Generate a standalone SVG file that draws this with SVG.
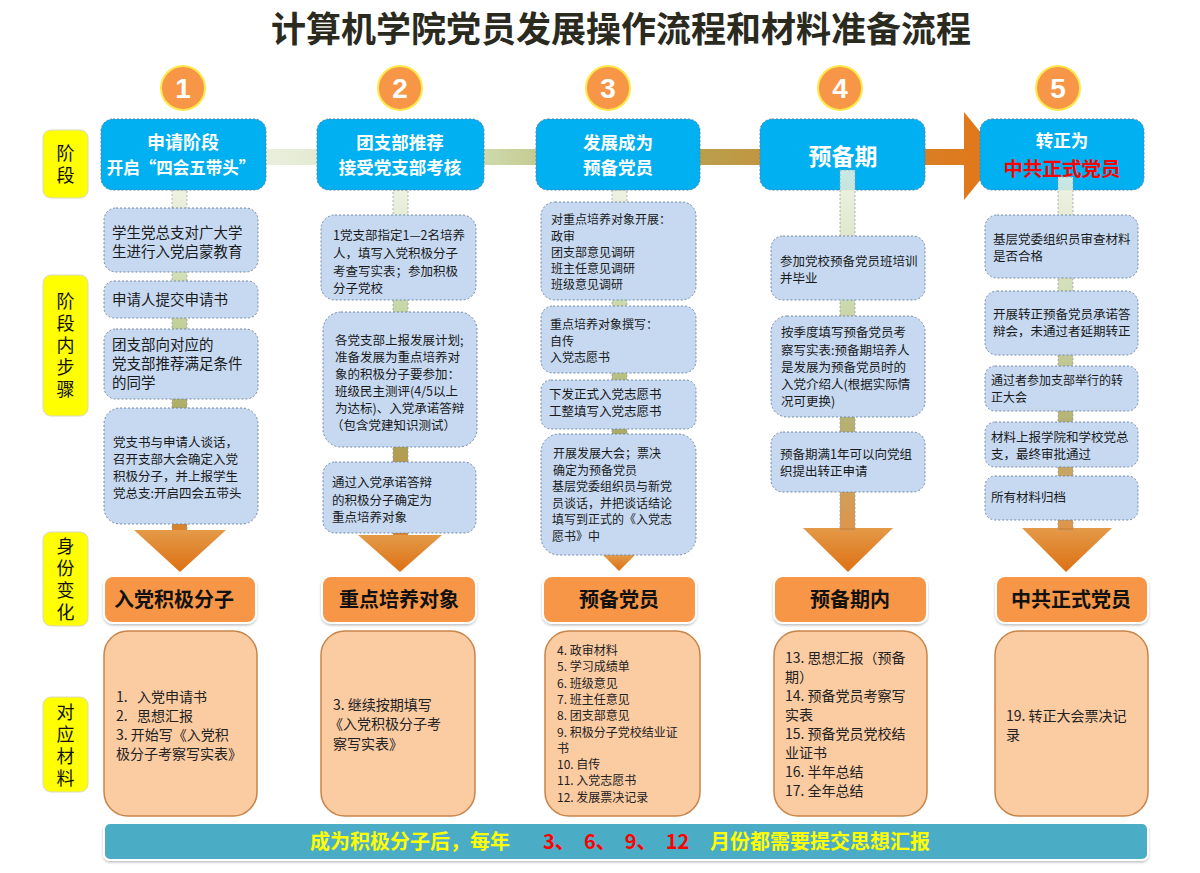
<svg xmlns="http://www.w3.org/2000/svg" width="1200" height="873" viewBox="0 0 1200 873">
  <style>
    text { font-family: "Noto Sans CJK SC", "Noto Sans", sans-serif; }
    .title { font-size: 35px; font-weight: bold; fill: #2b2a1f; text-anchor: middle; }
    .num { font-size: 28px; font-weight: bold; fill: #ffffff; text-anchor: middle; font-family: "Liberation Sans", Arial, sans-serif; }
    .badge { fill: #f79646; stroke: #ffe94a; stroke-width: 2; }
    .lbl { fill: #ffff00; stroke: #d8d8c8; stroke-width: 1; }
    .lbltxt { font-size: 18px; fill: #111111; text-anchor: middle; writing-mode: vertical-rl; letter-spacing: 4px; }
    .head { fill: #00b0f0; stroke: #5b7fa8; stroke-width: 1; stroke-dasharray: 2 2; }
    .headtxt { font-size: 17.5px; font-weight: bold; fill: #ffffff; text-anchor: middle; }
    .step { fill: #c6d9f1; stroke: #7489a8; stroke-width: 1; stroke-dasharray: 2 2; }
    .s { font-size: 12.5px; fill: #1a1a1a; }
    .s14 { font-size: 14.5px; fill: #1a1a1a; }
    .s12 { font-size: 12px; fill: #1a1a1a; }
    .ident { fill: #f79646; stroke: #ffffff; stroke-width: 2; filter: url(#soft); }
    .identtxt { font-size: 20px; font-weight: bold; fill: #111111; text-anchor: middle; }
    .mat { fill: #fbcba2; stroke: #c8854a; stroke-width: 1.5; }
    .m { font-size: 14px; fill: #222222; white-space: pre; }
    .m12 { font-size: 12px; fill: #222222; }
    .vcon { stroke: #9aa0a8; stroke-width: 0.8; stroke-dasharray: 2 2; }
    .bar { fill: #4bacc6; stroke: #ffffff; stroke-width: 2; filter: url(#soft); }
    .bartxt { font-size: 20px; font-weight: bold; fill: #ffff00; white-space: pre; }
  </style>
  <defs>
    <linearGradient id="hflow" gradientUnits="userSpaceOnUse" x1="266" y1="0" x2="975" y2="0">
      <stop offset="0" stop-color="#eaefdc"/>
      <stop offset="0.3" stop-color="#cfdcb0"/>
      <stop offset="0.55" stop-color="#b2a654"/>
      <stop offset="0.75" stop-color="#c8903a"/>
      <stop offset="1" stop-color="#e0781c"/>
    </linearGradient>
    <linearGradient id="vflow" x1="0" y1="0" x2="0" y2="1">
      <stop offset="0" stop-color="#eef2e2"/>
      <stop offset="0.35" stop-color="#c6d6a4"/>
      <stop offset="0.7" stop-color="#a8a45a"/>
      <stop offset="1" stop-color="#d9822c"/>
    </linearGradient>
    <linearGradient id="down" x1="0" y1="0" x2="0" y2="1">
      <stop offset="0" stop-color="#e49a48"/>
      <stop offset="1" stop-color="#dd7014"/>
    </linearGradient>
    <filter id="soft" x="-10%" y="-10%" width="120%" height="130%">
      <feDropShadow dx="0" dy="1.5" stdDeviation="1.2" flood-color="#000000" flood-opacity="0.25"/>
    </filter>
  </defs>

  <text class="title" x="621" y="42">计算机学院党员发展操作流程和材料准备流程</text>

  <!-- stage number badges -->
  <g id="badges">
    <circle class="badge" cx="183" cy="88" r="22"/><text class="num" x="183" y="98">1</text>
    <circle class="badge" cx="400" cy="88" r="22"/><text class="num" x="400" y="98">2</text>
    <circle class="badge" cx="608" cy="88" r="22"/><text class="num" x="608" y="98">3</text>
    <circle class="badge" cx="840" cy="88" r="22"/><text class="num" x="840" y="98">4</text>
    <circle class="badge" cx="1058" cy="88" r="22"/><text class="num" x="1058" y="98">5</text>
  </g>

  <!-- row labels (vertical text) -->
  <g id="row-labels">
    <rect class="lbl" x="43" y="130" width="45" height="68" rx="8"/>
    <text class="lbltxt" x="65.5" y="166">阶段</text>
    <rect class="lbl" x="43" y="275" width="45" height="141" rx="8"/>
    <text class="lbltxt" x="65.5" y="347">阶段内步骤</text>
    <rect class="lbl" x="43" y="532" width="45" height="94" rx="8"/>
    <text class="lbltxt" x="65.5" y="581">身份变化</text>
    <rect class="lbl" x="43" y="697" width="45" height="95" rx="8"/>
    <text class="lbltxt" x="65.5" y="747">对应材料</text>
  </g>

  <!-- connectors -->
  <g id="connectors">
    <rect x="260" y="149" width="706" height="16" fill="url(#hflow)"/>
    <polygon points="964,112 1000,156 964,200" fill="#e0781c"/>
    <rect class="vcon" x="172" y="190" width="15" height="342" fill="url(#vflow)"/>
    <rect class="vcon" x="393" y="190" width="15" height="347" fill="url(#vflow)"/>
    <rect class="vcon" x="612" y="190" width="15" height="368" fill="url(#vflow)"/>
    <polygon points="134,530 226,530 180,572" fill="url(#down)"/>
    <polygon points="358,535 442,535 400,572" fill="url(#down)"/>
    <polygon points="603,555 635,555 619,571" fill="url(#down)"/>
    <polygon points="803,528 893,528 848,572" fill="url(#down)"/>
    <polygon points="1022,528 1112,528 1066,572" fill="url(#down)"/>
  </g>

  <!-- stage 1 -->
  <g id="stage1">
    <rect class="head" x="101" y="119" width="165" height="71" rx="12"/>
    <text class="headtxt" x="183" y="149" style="font-size:18px">申请阶段</text>
    <text class="headtxt" x="181" y="174" style="font-size:16.5px">开启“四会五带头”</text>
    <rect class="step" x="104" y="208" width="154" height="64" rx="12"/>
    <text class="s14" x="112" y="238">学生党总支对广大学</text>
    <text class="s14" x="112" y="257">生进行入党启蒙教育</text>
    <rect class="step" x="104" y="281" width="154" height="37" rx="10"/>
    <text class="s14" x="112" y="305">申请人提交申请书</text>
    <rect class="step" x="104" y="329" width="154" height="70" rx="12"/>
    <text class="s14" x="112" y="350">团支部向对应的</text>
    <text class="s14" x="112" y="369">党支部推荐满足条件</text>
    <text class="s14" x="112" y="388">的同学</text>
    <rect class="step" x="104" y="408" width="154" height="116" rx="16"/>
    <text class="s" x="113" y="447">党支书与申请人谈话，</text>
    <text class="s" x="113" y="464">召开支部大会确定入党</text>
    <text class="s" x="113" y="481">积极分子，并上报学生</text>
    <text class="s" x="113" y="498">党总支:开启四会五带头</text>
    <rect class="ident" x="104" y="576" width="152" height="47" rx="9"/>
    <text class="identtxt" x="174" y="607">入党积极分子</text>
    <rect class="mat" x="104" y="631" width="153" height="185" rx="24"/>
    <text class="m" x="116" y="702">1.   入党申请书</text>
    <text class="m" x="116" y="721">2.   思想汇报</text>
    <text class="m" x="116" y="740">3. 开始写《入党积</text>
    <text class="m" x="116" y="759">极分子考察写实表》</text>
  </g>

  <!-- stage 2 -->
  <g id="stage2">
    <rect class="head" x="317" y="119" width="167" height="71" rx="12"/>
    <text class="headtxt" x="400" y="149">团支部推荐</text>
    <text class="headtxt" x="400" y="174">接受党支部考核</text>
    <rect class="step" x="321" y="215" width="155" height="85" rx="14"/>
    <text class="s" x="333" y="240">1党支部指定1—2名培养</text>
    <text class="s" x="333" y="258">人，填写入党积极分子</text>
    <text class="s" x="333" y="276">考查写实表；参加积极</text>
    <text class="s" x="333" y="293">分子党校</text>
    <rect class="step" x="323" y="312" width="154" height="135" rx="18"/>
    <text class="s" x="335" y="345">各党支部上报发展计划;</text>
    <text class="s" x="335" y="362">准备发展为重点培养对</text>
    <text class="s" x="335" y="379">象的积极分子要参加：</text>
    <text class="s" x="335" y="396">班级民主测评(4/5以上</text>
    <text class="s" x="335" y="413">为达标)、入党承诺答辩</text>
    <text class="s" x="331" y="430">（包含党建知识测试）</text>
    <rect class="step" x="323" y="462" width="153" height="71" rx="12"/>
    <text class="s" x="332" y="487">通过入党承诺答辩</text>
    <text class="s" x="332" y="505">的积极分子确定为</text>
    <text class="s" x="332" y="522">重点培养对象</text>
    <rect class="ident" x="322" y="576" width="154" height="47" rx="9"/>
    <text class="identtxt" x="399" y="607">重点培养对象</text>
    <rect class="mat" x="321" y="631" width="154" height="185" rx="24"/>
    <text class="m" x="333" y="710">3. 继续按期填写</text>
    <text class="m" x="329" y="729">《入党积极分子考</text>
    <text class="m" x="333" y="749">察写实表》</text>
  </g>

  <!-- stage 3 -->
  <g id="stage3">
    <rect class="head" x="536" y="119" width="164" height="71" rx="12"/>
    <text class="headtxt" x="618" y="149">发展成为</text>
    <text class="headtxt" x="618" y="174">预备党员</text>
    <rect class="step" x="541" y="202" width="155" height="98" rx="14"/>
    <text class="s12" x="551" y="224">对重点培养对象开展：</text>
    <text class="s12" x="551" y="241">政审</text>
    <text class="s12" x="551" y="257">团支部意见调研</text>
    <text class="s12" x="551" y="273">班主任意见调研</text>
    <text class="s12" x="551" y="289">班级意见调研</text>
    <rect class="step" x="541" y="306" width="155" height="67" rx="12"/>
    <text class="s12" x="550" y="329">重点培养对象撰写：</text>
    <text class="s12" x="550" y="346">自传</text>
    <text class="s12" x="550" y="362">入党志愿书</text>
    <rect class="step" x="541" y="380" width="155" height="49" rx="10"/>
    <text class="s" x="549" y="399">下发正式入党志愿书</text>
    <text class="s" x="549" y="416">工整填写入党志愿书</text>
    <rect class="step" x="541" y="434" width="155" height="121" rx="18"/>
    <text class="s12" x="553" y="458">开展发展大会；票决</text>
    <text class="s12" x="553" y="474.5">确定为预备党员</text>
    <text class="s12" x="552" y="491">基层党委组织员与新党</text>
    <text class="s12" x="552" y="507.5">员谈话，并把谈话结论</text>
    <text class="s12" x="552" y="524">填写到正式的《入党志</text>
    <text class="s12" x="552" y="540.5">愿书》中</text>
    <rect class="ident" x="543" y="576" width="153" height="47" rx="9"/>
    <text class="identtxt" x="619" y="607">预备党员</text>
    <rect class="mat" x="545" y="631" width="155" height="185" rx="24"/>
    <text class="m12" x="557" y="655">4. 政审材料</text>
    <text class="m12" x="557" y="671">5. 学习成绩单</text>
    <text class="m12" x="557" y="688">6. 班级意见</text>
    <text class="m12" x="557" y="704">7. 班主任意见</text>
    <text class="m12" x="557" y="720">8. 团支部意见</text>
    <text class="m12" x="557" y="737">9. 积极分子党校结业证</text>
    <text class="m12" x="557" y="753">书</text>
    <text class="m12" x="557" y="769">10. 自传</text>
    <text class="m12" x="557" y="785">11. 入党志愿书</text>
    <text class="m12" x="557" y="802">12. 发展票决记录</text>
  </g>

  <!-- stage 4 -->
  <g id="stage4">
    <rect class="head" x="760" y="119" width="165" height="71" rx="12"/>
    <text class="headtxt" x="843" y="165" style="font-size:23px">预备期</text>
    <rect class="vcon" x="840" y="170" width="15" height="360" fill="url(#vflow)" fill-opacity="0.85"/>
    <rect class="step" x="771" y="236" width="154" height="64" rx="12"/>
    <text class="s" x="780" y="266">参加党校预备党员班培训</text>
    <text class="s" x="780" y="283">并毕业</text>
    <rect class="step" x="771" y="316" width="154" height="101" rx="16"/>
    <text class="s" x="781" y="337">按季度填写预备党员考</text>
    <text class="s" x="781" y="355">察写实表:预备期培养人</text>
    <text class="s" x="781" y="372">是发展为预备党员时的</text>
    <text class="s" x="781" y="389">入党介绍人(根据实际情</text>
    <text class="s" x="781" y="406">况可更换)</text>
    <rect class="step" x="771" y="432" width="154" height="60" rx="12"/>
    <text class="s" x="780" y="459">预备期满1年可以向党组</text>
    <text class="s" x="780" y="476">织提出转正申请</text>
    <rect class="ident" x="774" y="576" width="153" height="47" rx="9"/>
    <text class="identtxt" x="850" y="607">预备期内</text>
    <rect class="mat" x="774" y="631" width="153" height="185" rx="24"/>
    <text class="m" x="785" y="663">13. 思想汇报（预备</text>
    <text class="m" x="785" y="682">期）</text>
    <text class="m" x="785" y="701">14. 预备党员考察写</text>
    <text class="m" x="785" y="720">实表</text>
    <text class="m" x="785" y="739">15. 预备党员党校结</text>
    <text class="m" x="785" y="758">业证书</text>
    <text class="m" x="785" y="777">16. 半年总结</text>
    <text class="m" x="785" y="796">17. 全年总结</text>
  </g>

  <!-- stage 5 -->
  <g id="stage5">
    <rect class="head" x="980" y="119" width="164" height="71" rx="12"/>
    <text class="headtxt" x="1062" y="147">转正为</text>
    <text class="headtxt" x="1062" y="176" style="font-size:19.5px;fill:#ff0000">中共正式党员</text>
    <rect class="vcon" x="1058" y="177" width="15" height="353" fill="url(#vflow)" fill-opacity="0.85"/>
    <rect class="step" x="985" y="215" width="153" height="63" rx="12"/>
    <text class="s" x="993" y="244">基层党委组织员审查材料</text>
    <text class="s" x="993" y="261">是否合格</text>
    <rect class="step" x="985" y="291" width="153" height="64" rx="12"/>
    <text class="s" x="993" y="319">开展转正预备党员承诺答</text>
    <text class="s" x="993" y="336">辩会，未通过者延期转正</text>
    <rect class="step" x="985" y="366" width="153" height="45" rx="10"/>
    <text class="s12" x="991" y="385">通过者参加支部举行的转</text>
    <text class="s12" x="991" y="401.5">正大会</text>
    <rect class="step" x="985" y="422" width="153" height="45" rx="10"/>
    <text class="s" x="991" y="442">材料上报学院和学校党总</text>
    <text class="s" x="991" y="459">支，最终审批通过</text>
    <rect class="step" x="985" y="476" width="153" height="44" rx="10"/>
    <text class="s" x="991" y="502">所有材料归档</text>
    <rect class="ident" x="996" y="576" width="152" height="47" rx="9"/>
    <text class="identtxt" x="1071" y="607">中共正式党员</text>
    <rect class="mat" x="995" y="631" width="153" height="185" rx="24"/>
    <text class="m" x="1006" y="721">19. 转正大会票决记</text>
    <text class="m" x="1006" y="740">录</text>
  </g>

  <!-- reminder bar -->
  <g id="reminder">
    <rect class="bar" x="104" y="823" width="1044" height="37" rx="6"/>
    <text class="bartxt" x="310" y="849">成为积极分子后，每年</text>
    <text class="bartxt" x="543" y="849" style="fill:#ff0000">3、  6、  9、  12</text>
    <text class="bartxt" x="710" y="849">月份都需要提交思想汇报</text>
  </g>
</svg>
